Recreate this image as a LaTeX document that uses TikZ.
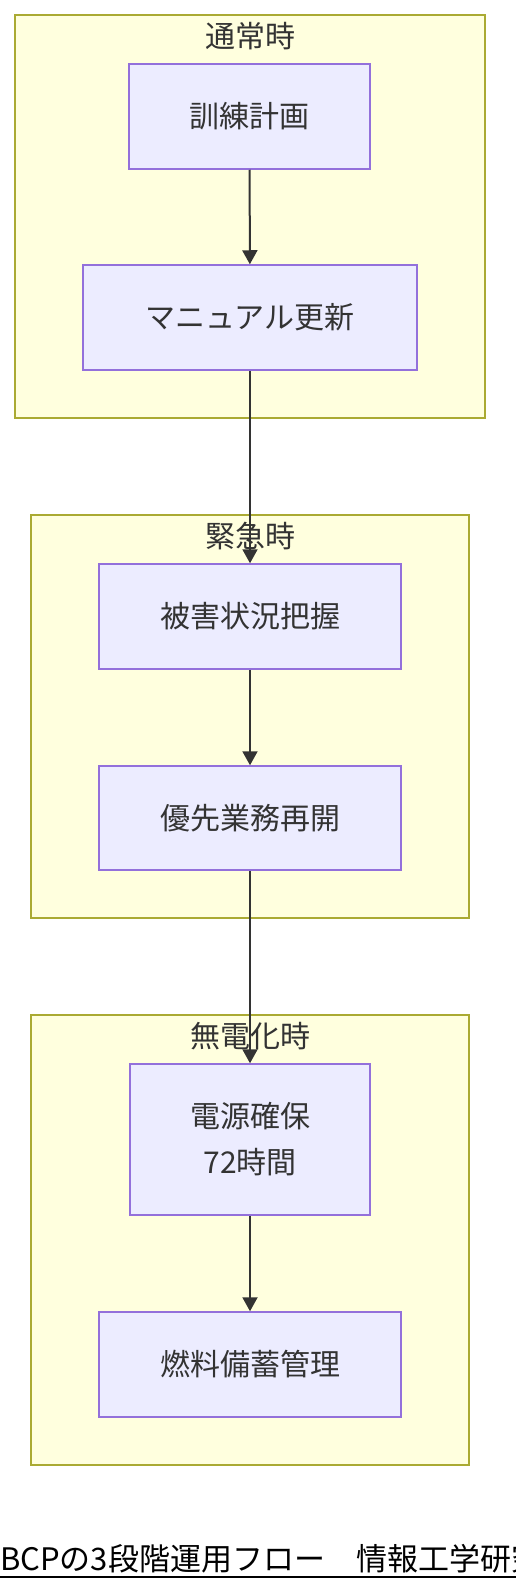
\documentclass[tikz,border=0pt]{standalone}
\usepackage{fontspec}
\setmainfont{Noto Sans CJK JP}
\usetikzlibrary{positioning,arrows.meta}

\definecolor{stagefill}{HTML}{FFFFDE}
\definecolor{stageline}{HTML}{AAAA33}
\definecolor{taskfill}{HTML}{ECECFF}
\definecolor{taskline}{HTML}{9370DB}
\definecolor{ink}{HTML}{333333}

\begin{document}
\begin{tikzpicture}[x=1pt,y=-1pt,
    stage/.style={fill=stagefill,draw=stageline,line width=1.5pt},
    stagetitle/.style={text=ink,font=\fontsize{30}{36}\selectfont,inner sep=0pt},
    task/.style={rectangle,fill=taskfill,draw=taskline,line width=1.5pt,text=ink,
      font=\fontsize{30}{46}\selectfont,align=center,inner sep=0pt},
    flow/.style={draw=ink,line width=2pt,-{Triangle[width=15pt,length=14pt]}}]
        \useasboundingbox (0,0) rectangle (516,1592);
        \clip (0,0) rectangle (516,1592);

        % stages
        \draw [stage] (15,15) rectangle (485,418);
        \draw [stage] (31,515) rectangle (469,918);
        \draw [stage] (31,1015) rectangle (469,1465);
        \node [stagetitle] at (250,36) (normal){通常時};
        \node [stagetitle] at (250,536) (emergency){緊急時};
        \node [stagetitle] at (250,1036) (blackout){無電化時};

        % tasks
        \node [task,minimum width=241pt,minimum height=105pt] at (249.5,116.5) (train){訓練計画};
        \node [task,minimum width=334pt,minimum height=105pt] at (250,317.5) (manual){マニュアル更新};
        \node [task,minimum width=302pt,minimum height=105pt] at (250,616.5) (damage){被害状況把握};
        \node [task,minimum width=302pt,minimum height=104pt] at (250,818) (resume){優先業務再開};
        \node [task,minimum width=240pt,minimum height=151pt] at (250,1139.5) (power){電源確保\\72時間};
        \node [task,minimum width=302pt,minimum height=105pt] at (250,1364.5) (fuel){燃料備蓄管理};

        \draw [flow] (train) -- (manual);
        \draw [flow] (manual) -- (damage);
        \draw [flow] (damage) -- (resume);
        \draw [flow] (resume) -- (power);
        \draw [flow] (power) -- (fuel);

        % caption
        \node [anchor=base west,inner sep=0pt,text=black,font=\fontsize{31}{36}\selectfont] at (0,1570) (caption){BCPの3段階運用フロー　情報工学研究};
        \draw [black,line width=2pt] (0,1577) -- (516,1577);
      \end{tikzpicture}
\end{document}
